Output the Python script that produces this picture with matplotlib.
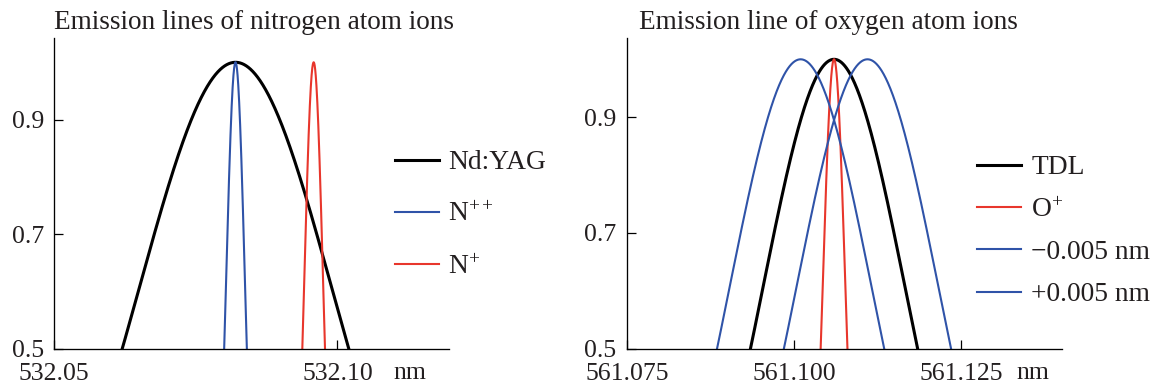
import numpy as np
import matplotlib
matplotlib.use('Agg')
import matplotlib.pyplot as plt

plt.rcParams['font.family'] = ['Liberation Serif', 'DejaVu Serif']
plt.rcParams['mathtext.fontset'] = 'custom'
plt.rcParams['mathtext.rm'] = 'Liberation Serif'
plt.rcParams['mathtext.it'] = 'Liberation Serif:italic'
plt.rcParams['axes.unicode_minus'] = True

# ---------------- data ----------------
# Left panel: emission lines of nitrogen atom ions (Gaussian line profiles)
n_title = 'Emission lines of nitrogen atom ions'
n_labels = ['Nd:YAG', 'N$^{++}$', 'N$^{+}$']
n_centers = [532.0820, 532.0820, 532.0958]   # nm, line centres
n_hwhm = [0.0200, 0.0020, 0.0020]            # nm, half width at half maximum
n_peak = [1.0, 1.0, 1.0]
n_xticks = [532.05, 532.10]
n_xticklabels = ['532.05', '532.10']

# Right panel: emission line of oxygen atom ions
o_title = 'Emission line of oxygen atom ions'
o_labels = ['TDL', 'O$^{+}$', '\u22120.005 nm', '+0.005 nm']
o_centers = [561.106, 561.106, 561.101, 561.111]
o_hwhm = [0.0125, 0.0020, 0.0125, 0.0125]
o_peak = [1.0, 1.0, 1.0, 1.0]
o_xticks = [561.075, 561.100, 561.125]
o_xticklabels = ['561.075', '561.100', '561.125']

yticks = [0.5, 0.7, 0.9]
yticklabels = ['0.5', '0.7', '0.9']

# ---------------- styles ----------------
BLACK = '#000000'
BLUE = '#2f53a8'
RED = '#e8362c'
TXT = '#231f20'
n_colors = [BLACK, BLUE, RED]
n_widths = [2.2, 1.5, 1.5]
o_colors = [BLACK, RED, BLUE, BLUE]
o_widths = [2.2, 1.5, 1.5, 1.5]

W, H = 1154, 387
fig = plt.figure(figsize=(W / 100, H / 100), dpi=100)


def px_rect(x0, x1, ytop, ybot):
    return [x0 / W, 1 - ybot / H, (x1 - x0) / W, (ybot - ytop) / H]


def profile(x, c, hw, a):
    return a * np.exp(-np.log(2) * ((x - c) / hw) ** 2)


def setup(ax, xlim, ylim, xticks, xticklabels):
    ax.set_xlim(*xlim)
    ax.set_ylim(*ylim)
    for s in ['top', 'right']:
        ax.spines[s].set_visible(False)
    for s in ['left', 'bottom']:
        ax.spines[s].set_linewidth(0.95)
        ax.spines[s].set_color('#000000')
    ax.set_xticks(xticks)
    ax.set_xticklabels(xticklabels)
    ax.set_yticks(yticks)
    ax.set_yticklabels(yticklabels)
    ax.tick_params(direction='in', length=6.5, width=0.9, colors='#000000',
                   labelcolor=TXT, labelsize=18.5)
    ax.tick_params(axis='y', pad=7.5)
    ax.tick_params(axis='x', pad=10)


# Left axes
ax1 = fig.add_axes(px_rect(54.3, 449, 38.0, 348.7))
xl = (532.05, 532.1197)
setup(ax1, xl, (0.5, 1.0424), n_xticks, n_xticklabels)
x = np.linspace(xl[0], xl[1], 4000)
lines1 = []
for lab, c, hw, a, col, lw in zip(n_labels, n_centers, n_hwhm, n_peak, n_colors, n_widths):
    ln, = ax1.plot(x, profile(x, c, hw, a), color=col, lw=lw, label=lab)
    lines1.append(ln)
ax1.text(0.901, -0.098, 'nm', transform=ax1.transAxes, ha='center', va='baseline',
         fontsize=18.5, color=TXT)
leg1 = ax1.legend(handles=lines1, loc='upper left', frameon=False, fontsize=19.8,
                  handlelength=1.6, handletextpad=0.33, labelspacing=0.98,
                  borderpad=0, borderaxespad=0,
                  bbox_to_anchor=(395 / W, 1 - 150 / H), bbox_transform=fig.transFigure)
for t in leg1.get_texts():
    t.set_color(TXT)
fig.text(54.3 / W, 1 - 29 / H, n_title, fontsize=19.6, color=TXT, va='baseline', ha='left')

# Right axes
ax2 = fig.add_axes(px_rect(626.8, 1062, 38.0, 348.7))
xr = (561.075, 561.1401)
setup(ax2, xr, (0.5, 1.0368), o_xticks, o_xticklabels)
x = np.linspace(xr[0], xr[1], 4000)
lines2 = []
for lab, c, hw, a, col, lw in zip(o_labels, o_centers, o_hwhm, o_peak, o_colors, o_widths):
    ln, = ax2.plot(x, profile(x, c, hw, a), color=col, lw=lw, label=lab)
    lines2.append(ln)
ax2.text(0.933, -0.098, 'nm', transform=ax2.transAxes, ha='center', va='baseline',
         fontsize=18.5, color=TXT)
leg2 = ax2.legend(handles=lines2, loc='upper left', frameon=False, fontsize=19.8,
                  handlelength=1.6, handletextpad=0.37, labelspacing=0.62,
                  borderpad=0, borderaxespad=0,
                  bbox_to_anchor=(977 / W, 1 - 155 / H), bbox_transform=fig.transFigure)
for t in leg2.get_texts():
    t.set_color(TXT)
fig.text(639 / W, 1 - 29 / H, o_title, fontsize=19.6, color=TXT, va='baseline', ha='left')

fig.savefig('out.png', dpi=100)
